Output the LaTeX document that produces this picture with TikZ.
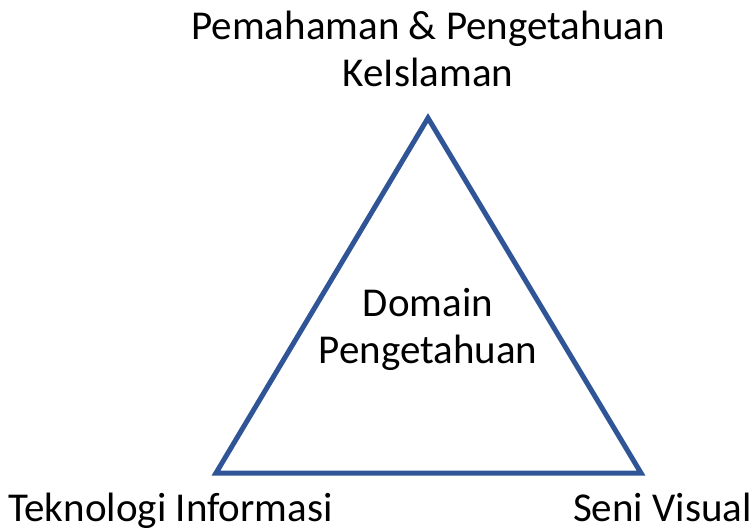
\documentclass[tikz,border=0pt]{standalone}
\usepackage{fontspec}
\setmainfont{Carlito}
\usepackage{xcolor}
\definecolor{triblue}{HTML}{2F5597}

\begin{document}
\begin{tikzpicture}[x=1pt,y=-1pt]
\useasboundingbox (0,0) rectangle (754,527);
\tikzset{lbl/.style={align=center,font=\fontsize{41}{47}\selectfont,inner sep=0pt,anchor=base}}
\coordinate (1) at (428,118);
\coordinate (2) at (216,473);
\coordinate (3) at (641,473);
\draw [triblue,line width=5pt] (1) -- (2) -- (3) -- cycle;
\node (a) at (428,86) [lbl] {Pemahaman \& Pengetahuan\\KeIslaman};
\node (b) at (428,363) [lbl] {Domain\\Pengetahuan};
\node (c) at (170.5,521) [lbl] {Teknologi Informasi};
\node (d) at (662.5,521) [lbl] {Seni Visual};
\end{tikzpicture}
\end{document}
